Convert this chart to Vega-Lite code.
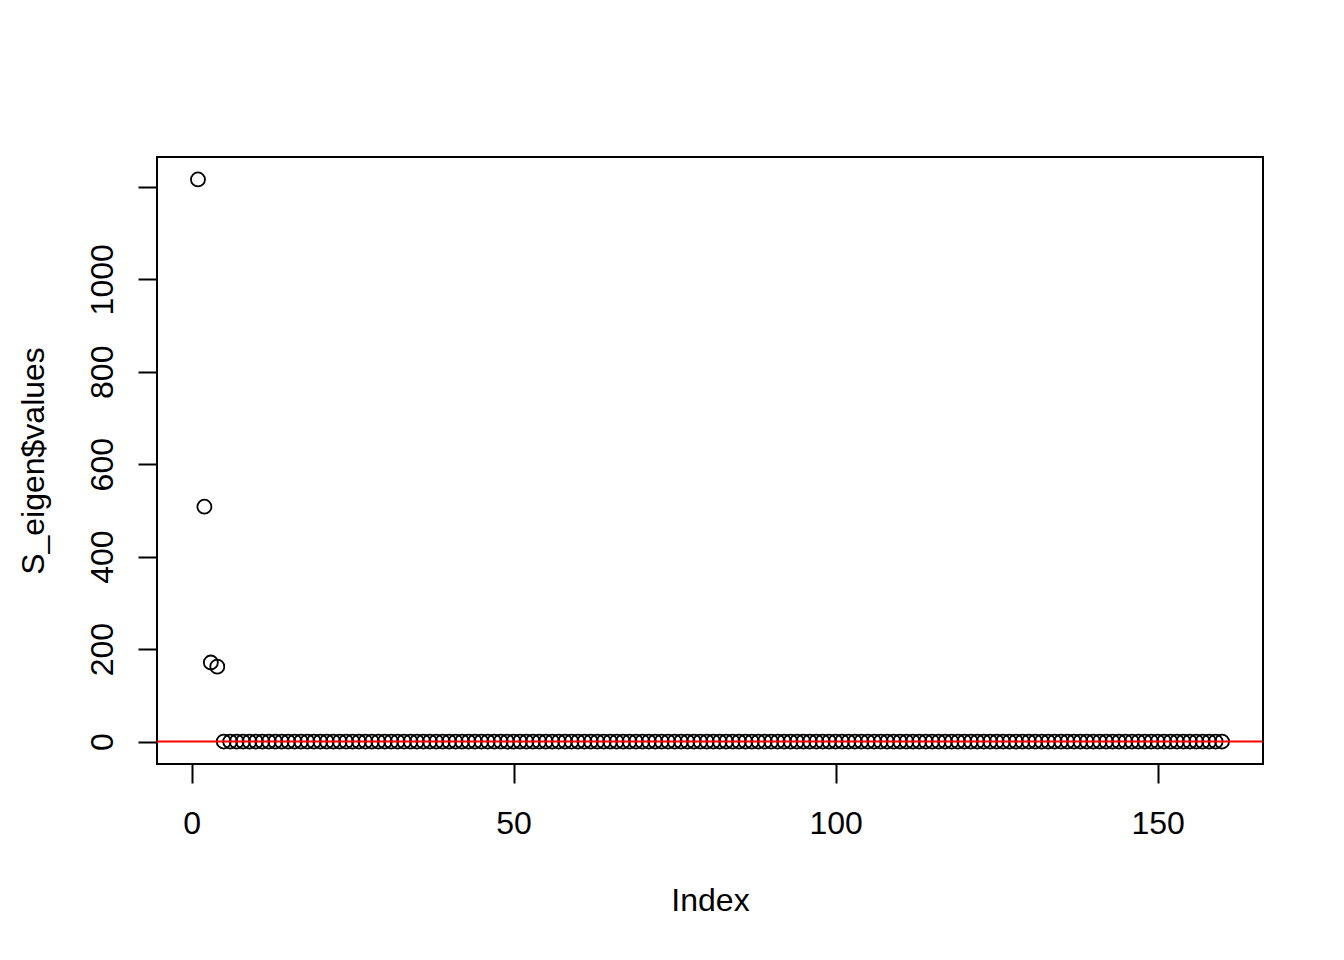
{
  "$schema": "https://vega.github.io/schema/vega-lite/v6.json",
  "autosize": "none",
  "width": 1106,
  "height": 607,
  "padding": {"left": 157, "top": 157, "right": 81, "bottom": 196},
  "background": "white",
  "config": {
    "view": {"stroke": "#000", "strokeWidth": 2},
    "font": "Liberation Sans",
    "axis": {
      "grid": false,
      "domain": false,
      "tickColor": "#000",
      "tickWidth": 2,
      "tickSize": 19,
      "labelFont": "Liberation Sans",
      "labelFontSize": 32,
      "labelColor": "#000",
      "titleFont": "Liberation Sans",
      "titleFontSize": 32,
      "titleFontWeight": "normal",
      "titleColor": "#000"
    }
  },
  "layer": [
    {
      "data": {"values": [
        {"i":1,"v":1216},{"i":2,"v":508},{"i":3,"v":171},{"i":4,"v":162},{"i":5,"v":0},
        {"i":6,"v":0},{"i":7,"v":0},{"i":8,"v":0},{"i":9,"v":0},{"i":10,"v":0},
        {"i":11,"v":0},{"i":12,"v":0},{"i":13,"v":0},{"i":14,"v":0},{"i":15,"v":0},
        {"i":16,"v":0},{"i":17,"v":0},{"i":18,"v":0},{"i":19,"v":0},{"i":20,"v":0},
        {"i":21,"v":0},{"i":22,"v":0},{"i":23,"v":0},{"i":24,"v":0},{"i":25,"v":0},
        {"i":26,"v":0},{"i":27,"v":0},{"i":28,"v":0},{"i":29,"v":0},{"i":30,"v":0},
        {"i":31,"v":0},{"i":32,"v":0},{"i":33,"v":0},{"i":34,"v":0},{"i":35,"v":0},
        {"i":36,"v":0},{"i":37,"v":0},{"i":38,"v":0},{"i":39,"v":0},{"i":40,"v":0},
        {"i":41,"v":0},{"i":42,"v":0},{"i":43,"v":0},{"i":44,"v":0},{"i":45,"v":0},
        {"i":46,"v":0},{"i":47,"v":0},{"i":48,"v":0},{"i":49,"v":0},{"i":50,"v":0},
        {"i":51,"v":0},{"i":52,"v":0},{"i":53,"v":0},{"i":54,"v":0},{"i":55,"v":0},
        {"i":56,"v":0},{"i":57,"v":0},{"i":58,"v":0},{"i":59,"v":0},{"i":60,"v":0},
        {"i":61,"v":0},{"i":62,"v":0},{"i":63,"v":0},{"i":64,"v":0},{"i":65,"v":0},
        {"i":66,"v":0},{"i":67,"v":0},{"i":68,"v":0},{"i":69,"v":0},{"i":70,"v":0},
        {"i":71,"v":0},{"i":72,"v":0},{"i":73,"v":0},{"i":74,"v":0},{"i":75,"v":0},
        {"i":76,"v":0},{"i":77,"v":0},{"i":78,"v":0},{"i":79,"v":0},{"i":80,"v":0},
        {"i":81,"v":0},{"i":82,"v":0},{"i":83,"v":0},{"i":84,"v":0},{"i":85,"v":0},
        {"i":86,"v":0},{"i":87,"v":0},{"i":88,"v":0},{"i":89,"v":0},{"i":90,"v":0},
        {"i":91,"v":0},{"i":92,"v":0},{"i":93,"v":0},{"i":94,"v":0},{"i":95,"v":0},
        {"i":96,"v":0},{"i":97,"v":0},{"i":98,"v":0},{"i":99,"v":0},{"i":100,"v":0},
        {"i":101,"v":0},{"i":102,"v":0},{"i":103,"v":0},{"i":104,"v":0},{"i":105,"v":0},
        {"i":106,"v":0},{"i":107,"v":0},{"i":108,"v":0},{"i":109,"v":0},{"i":110,"v":0},
        {"i":111,"v":0},{"i":112,"v":0},{"i":113,"v":0},{"i":114,"v":0},{"i":115,"v":0},
        {"i":116,"v":0},{"i":117,"v":0},{"i":118,"v":0},{"i":119,"v":0},{"i":120,"v":0},
        {"i":121,"v":0},{"i":122,"v":0},{"i":123,"v":0},{"i":124,"v":0},{"i":125,"v":0},
        {"i":126,"v":0},{"i":127,"v":0},{"i":128,"v":0},{"i":129,"v":0},{"i":130,"v":0},
        {"i":131,"v":0},{"i":132,"v":0},{"i":133,"v":0},{"i":134,"v":0},{"i":135,"v":0},
        {"i":136,"v":0},{"i":137,"v":0},{"i":138,"v":0},{"i":139,"v":0},{"i":140,"v":0},
        {"i":141,"v":0},{"i":142,"v":0},{"i":143,"v":0},{"i":144,"v":0},{"i":145,"v":0},
        {"i":146,"v":0},{"i":147,"v":0},{"i":148,"v":0},{"i":149,"v":0},{"i":150,"v":0},
        {"i":151,"v":0},{"i":152,"v":0},{"i":153,"v":0},{"i":154,"v":0},{"i":155,"v":0},
        {"i":156,"v":0},{"i":157,"v":0},{"i":158,"v":0},{"i":159,"v":0},{"i":160,"v":0}
      ]},
      "mark": {"type": "point", "shape": "circle", "filled": false, "stroke": "#000", "strokeWidth": 1.8, "size": 196, "opacity": 1},
      "encoding": {
        "x": {
          "field": "i", "type": "quantitative", "title": "Index",
          "scale": {"domain": [-5.36, 166.36], "nice": false, "zero": false},
          "axis": {"values": [0, 50, 100, 150], "format": "d", "labelPadding": 25, "labelBaseline": "top", "titlePadding": 46}
        },
        "y": {
          "field": "v", "type": "quantitative", "title": "S_eigen$values",
          "scale": {"domain": [-48.6, 1264.6], "nice": false, "zero": false},
          "axis": {
            "values": [0, 200, 400, 600, 800, 1000, 1200],
            "format": "d",
            "labelExpr": "datum.value == 1200 ? '' : datum.label",
            "labelAngle": -90, "labelAlign": "center", "labelBaseline": "alphabetic",
            "labelPadding": 26, "titlePadding": 36
          }
        }
      }
    },
    {
      "data": {"values": [{"y": 0}]},
      "mark": {"type": "rule", "color": "#ff0000", "strokeWidth": 2},
      "encoding": {"y": {"field": "y", "type": "quantitative"}}
    }
  ]
}
